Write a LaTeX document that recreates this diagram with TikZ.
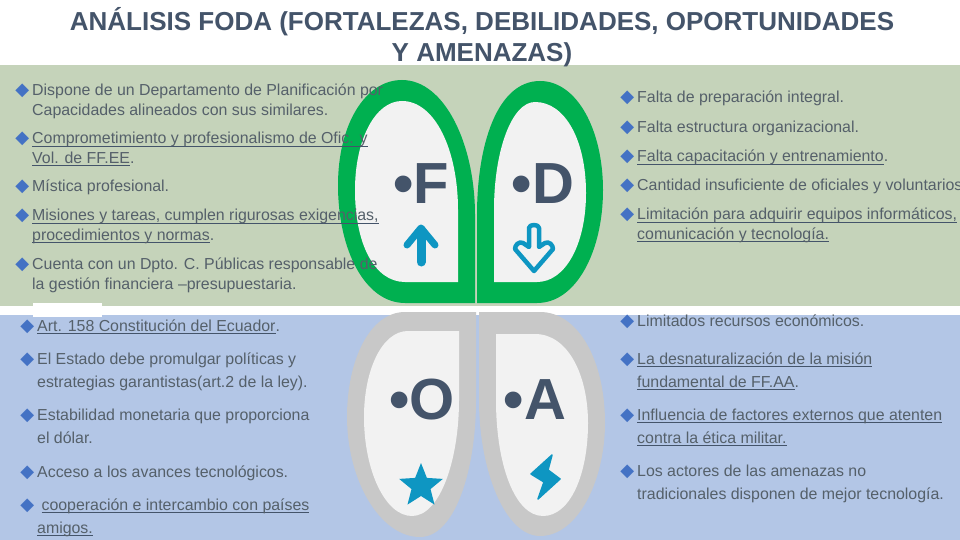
\documentclass[tikz,border=0pt]{standalone}
\usepackage{fontspec}
\setmainfont{Liberation Sans}
\newfontfamily\symfont{DejaVu Sans}
\usetikzlibrary{shapes.geometric}
\definecolor{txt}{HTML}{55606A}
\definecolor{slate}{HTML}{44546A}
\definecolor{bandTop}{HTML}{C5D3BA}
\definecolor{bandLow}{HTML}{B3C6E6}
\definecolor{leaf}{HTML}{00B050}
\definecolor{stone}{HTML}{C8C8C8}
\definecolor{pale}{HTML}{F2F2F2}
\definecolor{icon}{HTML}{0E96C2}
\definecolor{gem}{HTML}{4472C4}
\newcommand{\mk}{\strut\llap{\textcolor{gem}{\symfont\fontsize{18}{18}\selectfont ◆}\hspace{3pt}}}
\newsavebox{\ulbox}
\newcommand{\ul}[1]{\sbox{\ulbox}{#1}\rlap{\textcolor{slate}{\rule[-3pt]{\wd\ulbox}{1.1pt}}}\usebox{\ulbox}}
\tikzset{
  itemup/.style={anchor=north west, inner sep=0pt, align=left, text=txt, font=\fontsize{15.9}{19.5}\selectfont},
  itemlow/.style={anchor=north west, inner sep=0pt, align=left, text=txt, font=\fontsize{15.9}{23}\selectfont},
  letter/.style={text=slate, inner sep=0pt, font=\fontsize{58}{58}\selectfont\bfseries},
  iconfill/.style={fill=icon, draw=icon, line width=1.5pt, line join=round}
}
\begin{document}
\begin{tikzpicture}[x=1pt,y=-1pt]
  \useasboundingbox (0,0) rectangle (960,540);
  \clip (0,0) rectangle (960,540);
  \fill[white] (0,0) rectangle (960,540);
  \fill[bandTop] (0,65) rectangle (960,306);
  \fill[bandLow] (0,315) rectangle (960,540);
  \fill[white] (33,303) rectangle (102,317);
  % F
  \fill[leaf] (402,80) .. controls (445,80) and (475,145) .. (475,215) -- (475,303) -- (405,303)
    .. controls (365,303) and (338,250) .. (338,185) .. controls (338,125) and (365,80) .. (402,80);
  \fill[pale] (402,101) .. controls (435,101) and (458,150) .. (458,210) -- (458,282) -- (405,282)
    .. controls (375,282) and (355,245) .. (355,190) .. controls (355,140) and (375,101) .. (402,101);
  % D
  \fill[leaf] (540,81) .. controls (497,81) and (477,145) .. (477,215) -- (477,303) -- (537,303)
    .. controls (577,303) and (603,250) .. (603,190) .. controls (603,130) and (577,81) .. (540,81);
  \fill[pale] (535,102) .. controls (512,102) and (494,150) .. (494,210) -- (494,282) -- (537,282)
    .. controls (565,282) and (586,245) .. (586,193) .. controls (586,140) and (565,102) .. (535,102);
  % O
  \fill[stone] (476,312) -- (476,400) .. controls (476,470) and (455,537) .. (420,537)
    .. controls (380,537) and (347,480) .. (347,417) .. controls (347,360) and (370,312) .. (405,312) -- cycle;
  \fill[pale] (459,331) -- (459,400) .. controls (459,460) and (440,516) .. (412,516)
    .. controls (385,516) and (364,470) .. (364,417) .. controls (364,370) and (382,331) .. (408,331) -- cycle;
  % A
  \fill[stone] (479,312) -- (479,400) .. controls (479,470) and (505,536) .. (540,536)
    .. controls (578,536) and (605,480) .. (605,423) .. controls (605,360) and (578,312) .. (540,312) -- cycle;
  \fill[pale] (496,334) -- (496,400) .. controls (496,465) and (515,516) .. (543,516)
    .. controls (570,516) and (588,475) .. (588,423) .. controls (588,375) and (568,334) .. (535,334) -- cycle;
  % icons
  \draw[icon, line width=9pt, line cap=round] (421,230) -- (421,262);
  \draw[icon, line width=7pt, line cap=round, line join=round] (407,245) -- (421,228) -- (435,245);
  \draw[icon, fill=pale, line width=4.5pt, line join=round] (529,228) .. controls (529,224) and (539,224) .. (539,228)
    -- (539,247) -- (545,243) .. controls (549,241) and (553,245) .. (553,249) -- (534,271)
    -- (515,249) .. controls (515,245) and (519,241) .. (523,243) -- (529,247) -- cycle;
  \node[star, star points=5, star point ratio=2.3, fill=icon, minimum size=46pt, inner sep=0pt, line join=round] (starO) at (421,486) {};
  \path[iconfill] (552,455) -- (531,474) -- (544,482) -- (538,499) -- (560,479) -- (548,470) -- cycle;
  % letters
  \node[letter] (lf) at (421,184) {•F};
  \node[letter] (ld) at (543,184) {•D};
  \node[letter] (lo) at (422,400) {•O};
  \node[letter] (la) at (535,400) {•A};
  % title
  \node[inner sep=0pt, align=center, text=slate, font=\fontsize{26}{31}\selectfont\bfseries] (title) at (482,37)
    {ANÁLISIS FODA (FORTALEZAS, DEBILIDADES, OPORTUNIDADES\\Y AMENAZAS)};
  % strengths
  \node[itemup] (f1) at (32,82) {\mk Dispone de un Departamento de Planificación por\\Capacidades alineados con sus similares.};
  \node[itemup] (f2) at (32,130) {\mk\ul{Comprometimiento y profesionalismo de Ofic. y}\\\ul{Vol. de FF.EE}.};
  \node[itemup] (f3) at (32,178) {\mk Mística profesional.};
  \node[itemup] (f4) at (32,207) {\mk\ul{Misiones y tareas, cumplen rigurosas exigencias,}\\\ul{procedimientos y normas}.};
  \node[itemup] (f5) at (32,256) {\mk Cuenta con un Dpto. C. Públicas responsable de\\la gestión financiera –presupuestaria.};
  % weaknesses
  \node[itemup] (d1) at (637,89) {\mk Falta de preparación integral.};
  \node[itemup] (d2) at (637,119) {\mk Falta estructura organizacional.};
  \node[itemup] (d3) at (637,148) {\mk\ul{Falta capacitación y entrenamiento}.};
  \node[itemup] (d4) at (637,177) {\mk Cantidad insuficiente de oficiales y voluntarios};
  \node[itemup] (d5) at (637,206) {\mk\ul{Limitación para adquirir equipos informáticos,}\\\ul{comunicación y tecnología.}};
  % opportunities
  \node[itemlow] (o1) at (37,315) {\mk\ul{Art. 158 Constitución del Ecuador}.};
  \node[itemlow] (o2) at (37,348) {\mk El Estado debe promulgar políticas y\\estrategias garantistas(art.2 de la ley).};
  \node[itemlow] (o3) at (37,404) {\mk Estabilidad monetaria que proporciona\\el dólar.};
  \node[itemlow] (o4) at (37,461) {\mk Acceso a los avances tecnológicos.};
  \node[itemlow] (o5) at (37,494) {\mk\ \ul{cooperación e intercambio con países}\\\ul{amigos.}};
  % threats
  \node[itemlow] (a1) at (637,310) {\mk Limitados recursos económicos.};
  \node[itemlow] (a2) at (637,348) {\mk\ul{La desnaturalización de la misión}\\\ul{fundamental de FF.AA}.};
  \node[itemlow] (a3) at (637,404) {\mk\ul{Influencia de factores externos que atenten}\\\ul{contra la ética militar.}};
  \node[itemlow] (a4) at (637,460) {\mk Los actores de las amenazas no\\tradicionales disponen de mejor tecnología.};
\end{tikzpicture}
\end{document}
